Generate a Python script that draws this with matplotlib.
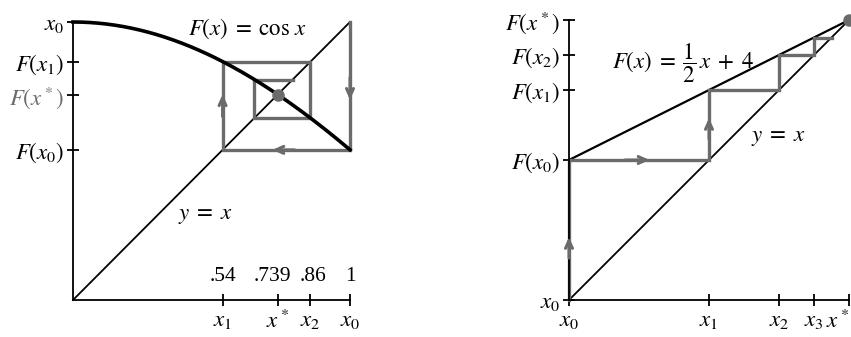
import numpy as np
import matplotlib.pyplot as plt

plt.rcParams["mathtext.fontset"] = "stix"
plt.rcParams["font.family"] = ["Liberation Serif", "DejaVu Serif"]

GRAY = "#6b6b6b"
FS = 16.5

# --- left panel: F(x) = cos x, starting at x0 = 1 ---
left_xticks = [0.54, 0.739, 0.857, 1.0]
left_xlabels = [r"$x_1$", r"$x^*$", r"$x_2$", r"$x_0$"]
left_numbers = [".54", ".739", ".86", "1"]
left_yticks = [0.540, 0.739, 0.857, 1.0]
left_ylabels = [r"$F(x_0)$", r"$F(x^*)$", r"$F(x_1)$", r"$x_0$"]
# cobweb corners (x, y)
left_web_x = [1.0, 1.0, 0.540, 0.540, 0.857, 0.857, 0.655, 0.655, 0.793]
left_web_y = [1.0, 0.540, 0.540, 0.857, 0.857, 0.655, 0.655, 0.793, 0.793]
left_fixed = 0.739

# --- right panel: F(x) = x/2 + 4, starting at x0 = 0 ---
right_xticks = [0, 4, 6, 7, 8]
right_xlabels = [r"$x_0$", r"$x_1$", r"$x_2$", r"$x_3$", r"$x^*$"]
right_yticks = [0, 4, 6, 7, 8]
right_ylabels = [r"$x_0$", r"$F(x_0)$", r"$F(x_1)$", r"$F(x_2)$", r"$F(x^*)$"]
right_web_x = [0, 0, 4, 4, 6, 6, 7, 7, 7.5]
right_web_y = [0, 4, 4, 6, 6, 7, 7, 7.5, 7.5]
right_fixed = 8


def arrow(ax, x0, y0, x1, y1):
    ax.annotate("", xy=(x1, y1), xytext=(x0, y0),
                arrowprops=dict(arrowstyle="->,head_length=0.55,head_width=0.25",
                                color=GRAY, lw=2.2, shrinkA=0, shrinkB=0))


def setup(ax, lim):
    ax.set_xlim(0, lim)
    ax.set_ylim(0, lim)
    for s in ["top", "right"]:
        ax.spines[s].set_visible(False)
    for s in ["left", "bottom"]:
        ax.spines[s].set_linewidth(1.3)
    ax.tick_params(direction="inout", length=8, width=1.3, labelsize=FS)
    ax.tick_params(axis="x", pad=3)
    ax.tick_params(axis="y", pad=2)


fig = plt.figure(figsize=(8.51, 3.37), dpi=100)

# left
ax = fig.add_axes([73 / 851, 37 / 337, 277 / 851, 278 / 337])
setup(ax, 1)
t = np.linspace(0, 1, 200)
ax.plot([0, 1], [0, 1], color="black", lw=1.3, clip_on=False)
ax.plot(left_web_x, left_web_y, color=GRAY, lw=2.4, clip_on=False, solid_joinstyle="miter")
ax.plot(t, np.cos(t), color="black", lw=2.6, clip_on=False)
ax.plot(left_fixed, left_fixed, "o", color=GRAY, ms=8, clip_on=False)
arrow(ax, 1.0, 0.80, 1.0, 0.72)
arrow(ax, 0.80, 0.540, 0.72, 0.540)
arrow(ax, 0.540, 0.66, 0.540, 0.74)
ax.set_xticks(left_xticks, left_xlabels)
ax.set_yticks(left_yticks, left_ylabels)
ax.get_yticklabels()[1].set_color(GRAY)
# small sideways nudges so the numbers don't run together
nudges = [0, -4, 2, 0]
for xv, s, dx in zip(left_xticks, left_numbers, nudges):
    ax.annotate(s, (xv, 0.085), xytext=(dx, 0), textcoords="offset points",
                ha="center", va="center", fontsize=15.5)
ax.text(0.415, 0.975, r"$F(x)\;=\;\cos\,x$", ha="left", va="center", fontsize=FS)
ax.text(0.38, 0.305, r"$y\;=\;x$", ha="left", va="center", fontsize=FS)

# right
ax = fig.add_axes([569 / 851, 37 / 337, 280 / 851, 280 / 337])
setup(ax, 8)
ax.plot([0, 8], [0, 8], color="black", lw=1.3, clip_on=False)
ax.plot([0, 8], [4, 8], color="black", lw=1.6, clip_on=False)
ax.plot(right_web_x, right_web_y, color=GRAY, lw=2.4, clip_on=False, solid_joinstyle="miter")
ax.plot(right_fixed, right_fixed, "o", color=GRAY, ms=8, clip_on=False)
arrow(ax, 0, 1.2, 0, 1.8)
arrow(ax, 1.6, 4, 2.3, 4)
arrow(ax, 4, 4.6, 4, 5.2)
ax.set_xticks(right_xticks, right_xlabels)
ax.set_yticks(right_yticks, right_ylabels)
# keep the last label inside the canvas
ax.get_xticklabels()[-1].set_horizontalalignment("right")
ax.text(1.23, 6.75, r"$F(x)\;=\;\dfrac{1}{2}\,x\;+\;4$", ha="left", va="center", fontsize=FS)
ax.text(5.2, 4.65, r"$y\;=\;x$", ha="left", va="center", fontsize=FS)

fig.savefig("out.png", dpi=100)
